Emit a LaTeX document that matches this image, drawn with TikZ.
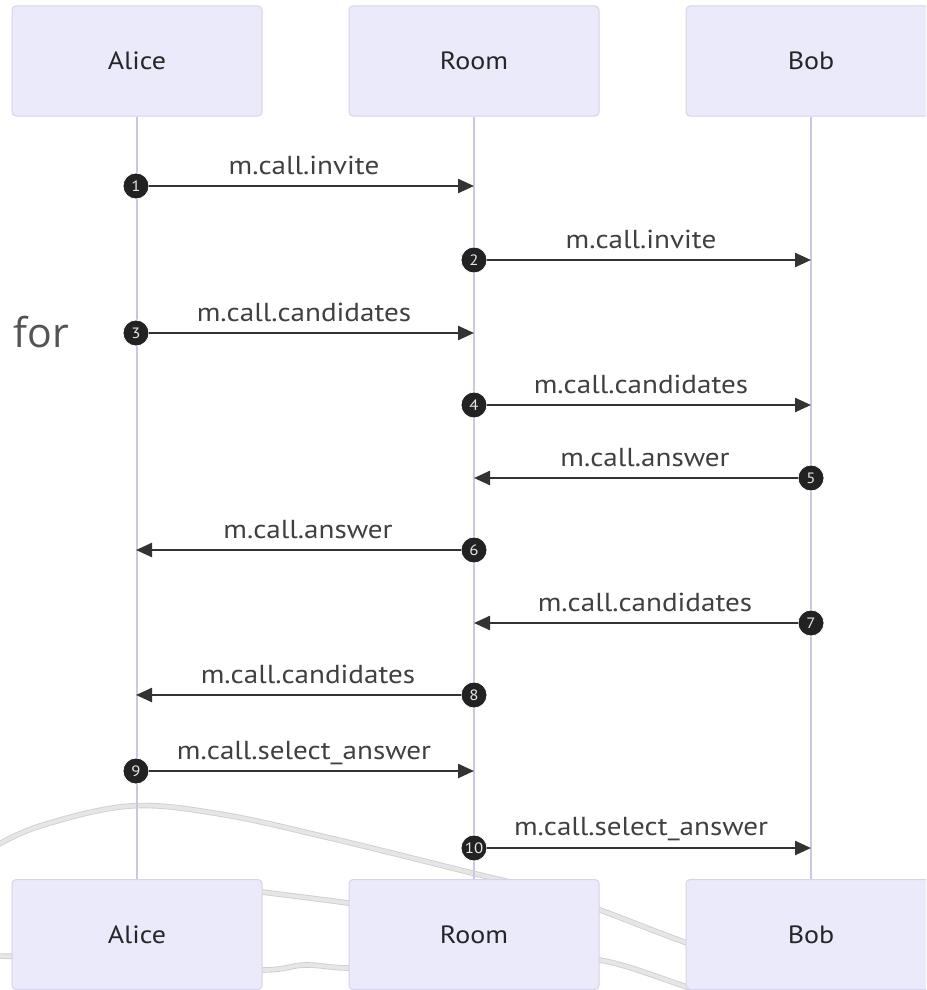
\documentclass[tikz,border=0pt]{standalone}
\usepackage{fontspec}
\setmainfont{PT Sans}[FakeStretch=1.12]
\newfontfamily\forfont{Open Sans}
\usetikzlibrary{arrows.meta}
\definecolor{actorfill}{RGB}{234,234,250}
\definecolor{actorline}{RGB}{212,212,236}
\definecolor{lifeline}{RGB}{200,200,226}
\definecolor{msgline}{RGB}{51,51,51}
\definecolor{wire}{RGB}{230,230,230}
\definecolor{wireedge}{RGB}{208,208,208}
\definecolor{seqdot}{RGB}{34,34,34}
\tikzset{
  actor/.style={draw=actorline, line width=1pt, fill=actorfill, rounded corners=4pt,
    minimum width=250pt, minimum height=110pt, font=\fontsize{25}{28}\selectfont, text=black!85},
  life/.style={draw=lifeline, line width=2pt},
  msg/.style={draw=msgline, line width=2.4pt, -{Triangle[length=16pt,width=14pt]}},
  msglabel/.style={font=\fontsize{26}{28}\selectfont, text=black!75, anchor=base},
  seqnum/.style={circle, fill=seqdot, draw=white, line width=0.8pt, inner sep=0pt,
    minimum size=26pt, text=white!90!black, font=\fontsize{15}{15}\selectfont},
  wirestyle/.style={preaction={draw=wireedge, line width=5.6pt, line cap=round},
    draw=wire, line width=3.8pt, line cap=round}
}
\begin{document}
\begin{tikzpicture}[x=1pt, y=-1pt]
\useasboundingbox (0,0) rectangle (926,990);
\clip (0,0) rectangle (926,990);
\fill[white] (0,0) rectangle (926,990);

% loose grey wires running behind the lower actor boxes
\draw[wirestyle] plot[smooth, tension=0.6] coordinates
  {(-8,848) (40,826) (130,806) (220,814) (330,838) (460,870) (540,890) (600,910) (687,943) (790,978) (840,998)};
\draw[wirestyle] plot[smooth] coordinates {(200,884) (262,892) (348,903) (420,914)};
\draw[wirestyle] plot[smooth, tension=0.6] coordinates
  {(-8,956) (60,958) (150,966) (262,970) (305,965) (348,968) (420,966) (520,958) (600,960) (687,987) (720,998)};

% side text
\node[text=black!67, font=\forfont\fontsize{41}{44}\selectfont, anchor=base west] (fortxt) at (10,347) {for};

% participants
\node[actor] (alice) at (137,61) {Alice};
\node[actor] (room) at (474,61) {Room};
\node[actor] (bob) at (811,61) {Bob};
\node[actor] (alice2) at (137,934.5) {Alice};
\node[actor] (room2) at (474,934.5) {Room};
\node[actor] (bob2) at (811,934.5) {Bob};

\draw[life] (alice.south) -- (alice2.north);
\draw[life] (room.south) -- (room2.north);
\draw[life] (bob.south) -- (bob2.north);

% sequence numbers on the sending lifelines
\node[seqnum] (n1) at (136,186) {1};
\node[seqnum] (n2) at (474,260) {2};
\node[seqnum] (n3) at (136,333) {3};
\node[seqnum] (n4) at (474,405) {4};
\node[seqnum] (n5) at (811,478) {5};
\node[seqnum] (n6) at (474,550) {6};
\node[seqnum] (n7) at (811,623) {7};
\node[seqnum] (n8) at (474,695) {8};
\node[seqnum] (n9) at (136,771) {9};
\node[seqnum] (n10) at (474,848) {10};

% arrow ends on the receiving lifelines
\coordinate (t1) at (474,186);
\coordinate (t2) at (811,260);
\coordinate (t3) at (474,333);
\coordinate (t4) at (811,405);
\coordinate (t5) at (474,478);
\coordinate (t6) at (136,550);
\coordinate (t7) at (474,623);
\coordinate (t8) at (136,695);
\coordinate (t9) at (474,771);
\coordinate (t10) at (811,848);

\draw[msg] (n1) -- (t1);
\draw[msg] (n2) -- (t2);
\draw[msg] (n3) -- (t3);
\draw[msg] (n4) -- (t4);
\draw[msg] (n5) -- (t5);
\draw[msg] (n6) -- (t6);
\draw[msg] (n7) -- (t7);
\draw[msg] (n8) -- (t8);
\draw[msg] (n9) -- (t9);
\draw[msg] (n10) -- (t10);

% message labels
\node[msglabel] (l1) at (304,174) {m.call.invite};
\node[msglabel] (l2) at (641,248) {m.call.invite};
\node[msglabel] (l3) at (304,321) {m.call.candidates};
\node[msglabel] (l4) at (641,393) {m.call.candidates};
\node[msglabel] (l5) at (645,466) {m.call.answer};
\node[msglabel] (l6) at (308,538) {m.call.answer};
\node[msglabel] (l7) at (645,611) {m.call.candidates};
\node[msglabel] (l8) at (308,683) {m.call.candidates};
\node[msglabel] (l9) at (304,759) {m.call.select\_answer};
\node[msglabel] (l10) at (641,835) {m.call.select\_answer};
\end{tikzpicture}
\end{document}
